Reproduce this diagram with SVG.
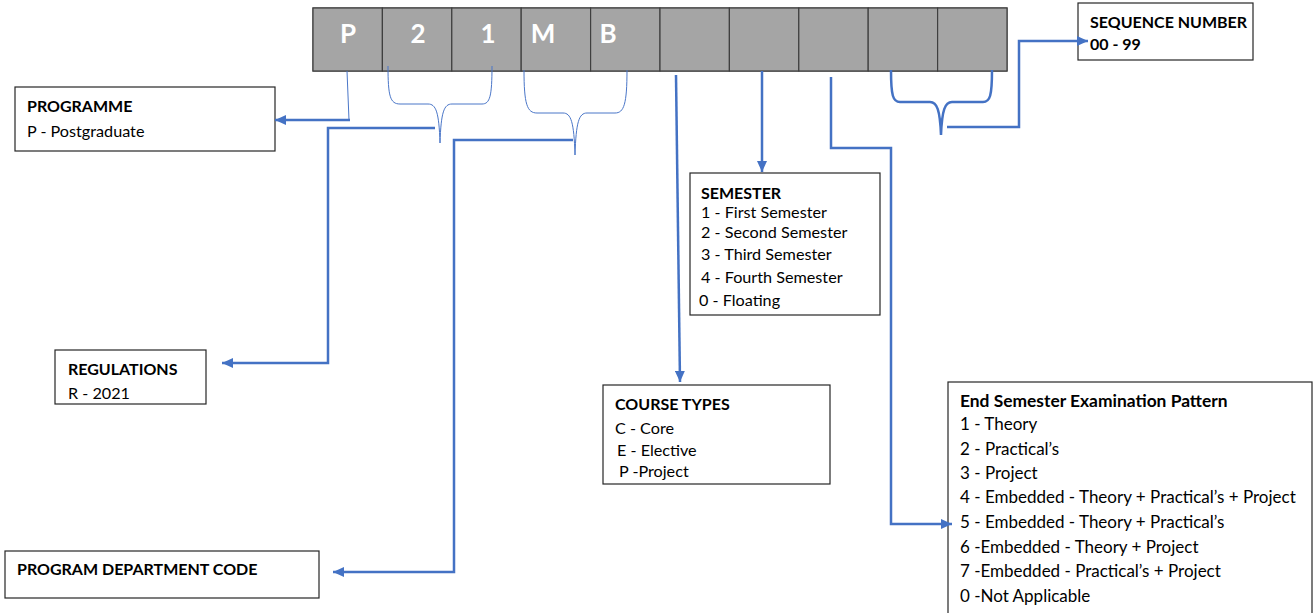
<svg xmlns="http://www.w3.org/2000/svg" width="1315" height="613" viewBox="0 0 1315 613">
<style>
.cell{fill:#a5a5a5;stroke:#3f3f3f;stroke-width:1.2}
.cl{font-family:Lato,"Liberation Sans",sans-serif;font-weight:bold;font-size:26px;fill:#ffffff}
.box{fill:#ffffff;stroke:#262626;stroke-width:1.2}
.t{font-family:Lato,"Liberation Sans",sans-serif;font-size:16.2px;fill:#000}
.b{font-family:Lato,"Liberation Sans",sans-serif;font-size:16px;font-weight:bold;fill:#000}
.te{font-family:Lato,"Liberation Sans",sans-serif;font-size:17px;fill:#000}
.be{font-family:Lato,"Liberation Sans",sans-serif;font-size:17.4px;font-weight:bold;fill:#000}
.thick{fill:none;stroke:#4472c4;stroke-width:2.5}
.thin{fill:none;stroke:#4a76c8;stroke-width:1}
</style>
<defs>
<marker id="ah" markerUnits="userSpaceOnUse" markerWidth="12" markerHeight="10" refX="11" refY="5" orient="auto">
<path d="M0,0 L11,5 L0,10 z" fill="#4472c4"/>
</marker>
</defs>

<g id="code-cells">
<rect class="cell" x="313" y="8" width="694" height="63"/>
<rect class="cell" x="313" y="8" width="69.4" height="63"/>
<rect class="cell" x="382.4" y="8" width="69.4" height="63"/>
<rect class="cell" x="451.8" y="8" width="69.4" height="63"/>
<rect class="cell" x="521.2" y="8" width="69.4" height="63"/>
<rect class="cell" x="590.6" y="8" width="69.4" height="63"/>
<rect class="cell" x="660" y="8" width="69.4" height="63"/>
<rect class="cell" x="729.4" y="8" width="69.4" height="63"/>
<rect class="cell" x="798.8" y="8" width="69.4" height="63"/>
<rect class="cell" x="868.2" y="8" width="69.4" height="63"/>
<rect class="cell" x="937.6" y="8" width="69.4" height="63"/>
<text class="cl" x="348" y="43" text-anchor="middle">P</text>
<text class="cl" x="418" y="43" text-anchor="middle">2</text>
<text class="cl" x="488" y="43" text-anchor="middle">1</text>
<text class="cl" x="543" y="43" text-anchor="middle">M</text>
<text class="cl" x="608" y="43" text-anchor="middle">B</text>
</g>

<g id="programme">
<rect class="box" x="15" y="87" width="260" height="64"/>
<text class="b" x="27" y="112">PROGRAMME</text>
<text class="t" x="27" y="137">P - Postgraduate</text>
</g>

<g id="regulations">
<rect class="box" x="55" y="350" width="151" height="54"/>
<text class="b" x="68" y="375">REGULATIONS</text>
<text class="t" x="68" y="399">R - 2021</text>
</g>

<g id="dept">
<rect class="box" x="5" y="551" width="314" height="47"/>
<text class="b" x="17" y="575">PROGRAM DEPARTMENT CODE</text>
</g>

<g id="semester">
<rect class="box" x="690" y="173" width="190" height="142"/>
<text class="b" x="701" y="199">SEMESTER</text>
<text class="t" x="701" y="218">1 - First Semester</text>
<text class="t" x="701" y="238">2 - Second Semester</text>
<text class="t" x="701" y="260">3 - Third Semester</text>
<text class="t" x="701" y="283">4 - Fourth Semester</text>
<text class="t" x="699" y="306">0 - Floating</text>
</g>

<g id="course-types">
<rect class="box" x="603" y="385" width="227" height="99"/>
<text class="b" x="615" y="410">COURSE TYPES</text>
<text class="t" x="615" y="434">C - Core</text>
<text class="t" x="617" y="456">E - Elective</text>
<text class="t" x="619" y="477">P -Project</text>
</g>

<g id="exam-pattern">
<rect class="box" x="948" y="382" width="364" height="240"/>
<text class="be" x="960" y="407">End Semester Examination Pattern</text>
<text class="te" x="960" y="430">1 - Theory</text>
<text class="te" x="960" y="455">2 - Practical’s</text>
<text class="te" x="960" y="479">3 - Project</text>
<text class="te" x="960" y="503">4 - Embedded - Theory + Practical’s + Project</text>
<text class="te" x="960" y="528">5 - Embedded - Theory + Practical’s</text>
<text class="te" x="960" y="553">6 -Embedded - Theory + Project</text>
<text class="te" x="960" y="577">7 -Embedded - Practical’s + Project</text>
<text class="te" x="960" y="602">0 -Not Applicable</text>
</g>

<g id="sequence">
<rect class="box" x="1078" y="3" width="175" height="57"/>
<text class="b" x="1090" y="28">SEQUENCE NUMBER</text>
<text class="b" x="1090" y="50">00 - 99</text>
</g>

<g id="connectors">
<path class="thin" d="M347,71 L349,120"/>
<path class="thick" d="M350,120 L275,120" marker-end="url(#ah)"/>
<path class="thin" d="M388,66 C388,96 390,104 400,104 L428,104 C436,104 439,112 440,143 C441,112 444,104 452,104 L482,104 C490,104 492,96 492,66"/>
<path class="thick" d="M435,128 L328,128 L328,363 L222,363" marker-end="url(#ah)"/>
<path class="thin" d="M524,70 C524,104 527,113 537,113 L563,113 C571,113 574,122 575,155 C576,122 579,113 587,113 L615,113 C624,113 627,104 627,70"/>
<path class="thick" d="M573,140 L454,140 L454,572 L333,572" marker-end="url(#ah)"/>
<path class="thick" d="M676,75 L680,382" marker-end="url(#ah)"/>
<path class="thick" d="M762,71 L762,172" marker-end="url(#ah)"/>
<path class="thick" d="M831,77 L831,148 L891,148 L891,524 L952,524" marker-end="url(#ah)"/>
<path class="thick" d="M891,70 C891,96 893,102 900,102 L930,102 C937,102 940,110 941,135 C942,110 945,102 952,102 L983,102 C990,102 992,96 992,70"/>
<path class="thick" d="M947,127 L1019,127 L1019,41 L1088,41" marker-end="url(#ah)"/>
</g>
</svg>
